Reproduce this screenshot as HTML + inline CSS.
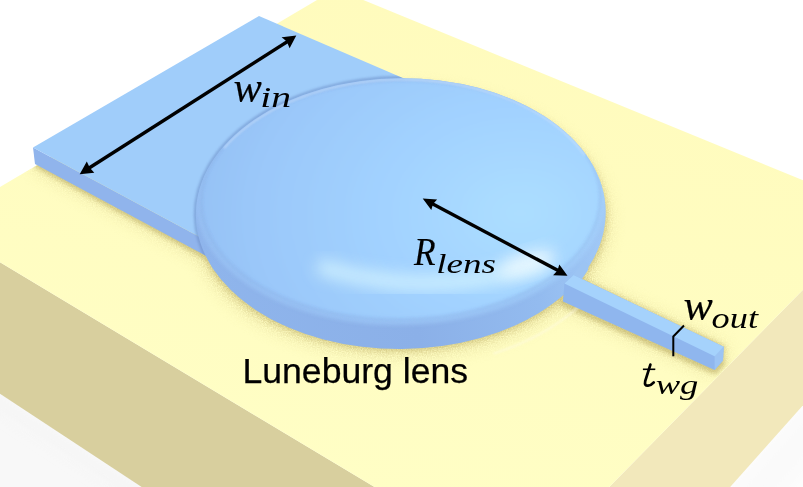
<!DOCTYPE html>
<html><head><meta charset="utf-8">
<style>
html,body{margin:0;padding:0;background:#fff;}
body{width:803px;height:487px;overflow:hidden;position:relative;}
svg{position:absolute;left:0;top:0;}
.m{font-family:"Liberation Serif",serif;font-style:italic;fill:#000;}
.s{font-family:"Liberation Sans",sans-serif;fill:#000;}
</style></head>
<body>
<svg width="803" height="487" viewBox="0 0 803 487">
<defs>
  <filter id="b1" x="-50%" y="-50%" width="200%" height="200%"><feGaussianBlur stdDeviation="1"/></filter>
  <filter id="b2" x="-50%" y="-50%" width="200%" height="200%"><feGaussianBlur stdDeviation="2"/></filter>
  <filter id="b3" x="-50%" y="-50%" width="200%" height="200%"><feGaussianBlur stdDeviation="3"/></filter>
  <filter id="b5" x="-50%" y="-50%" width="200%" height="200%"><feGaussianBlur stdDeviation="5"/></filter>
  <filter id="b8" x="-50%" y="-50%" width="200%" height="200%"><feGaussianBlur stdDeviation="8"/></filter>
  <filter id="b10" x="-50%" y="-50%" width="200%" height="200%"><feGaussianBlur stdDeviation="10"/></filter>
  <filter id="grain" x="-10%" y="-10%" width="120%" height="120%">
    <feGaussianBlur in="SourceGraphic" stdDeviation="9" result="bl"/>
    <feTurbulence type="fractalNoise" baseFrequency="0.8" numOctaves="2" seed="4" result="n"/>
    <feColorMatrix in="n" type="matrix" values="0 0 0 0 0  0 0 0 0 0  0 0 0 0 0  2.2 0 0 0 -0.5" result="na"/>
    <feComposite in="bl" in2="na" operator="in"/>
  </filter>
  <filter id="b14" x="-50%" y="-50%" width="200%" height="200%"><feGaussianBlur stdDeviation="14"/></filter>
  <radialGradient id="lensTop" gradientUnits="userSpaceOnUse" cx="520" cy="215" r="340" gradientTransform="translate(520,215) scale(1,0.75) translate(-520,-215)">
    <stop offset="0" stop-color="#acdeff"/>
    <stop offset="0.4" stop-color="#a2d2ff"/>
    <stop offset="0.8" stop-color="#9ac7f9"/>
    <stop offset="1" stop-color="#94c0f4"/>
  </radialGradient>
  <linearGradient id="wall" gradientUnits="userSpaceOnUse" x1="200" y1="300" x2="610" y2="230">
    <stop offset="0" stop-color="#8fb5ec"/>
    <stop offset="0.5" stop-color="#8bb0e8"/>
    <stop offset="0.8" stop-color="#93bbef"/>
    <stop offset="1" stop-color="#a2caf7"/>
  </linearGradient>
  <linearGradient id="whiteShadowL" gradientUnits="userSpaceOnUse" x1="140" y1="480" x2="80" y2="580">
    <stop offset="0" stop-color="#eeeeee"/>
    <stop offset="1" stop-color="#ffffff"/>
  </linearGradient>
  <linearGradient id="topY" gradientUnits="userSpaceOnUse" x1="400" y1="0" x2="300" y2="480">
    <stop offset="0" stop-color="#fffbbd"/>
    <stop offset="1" stop-color="#fffec5"/>
  </linearGradient>
  <clipPath id="topClip"><path d="M336,-11.2 L879.7,211.7 L522.2,575.6 L-63.3,224.3 Z"/></clipPath>
  <clipPath id="slabClip"><path d="M33,147.5 L259,16 L440,94 L230,253.3 L230,268.7 L35,164 Z"/></clipPath>
  <clipPath id="silclip"><ellipse cx="400.8" cy="213.6" transform="rotate(-0.52 400.8 213.6)" rx="204.9" ry="135.4"/></clipPath>
  <clipPath id="e1clip"><ellipse cx="400.8" cy="201.1" transform="rotate(-0.86 400.8 201.1)" rx="201.5" ry="121.1"/></clipPath>
</defs>

<rect x="0" y="0" width="803" height="487" fill="#ffffff"/>
<!-- ground shadows -->
<path d="M-63.3,352 L513,731 L513,800 L-63.3,500 Z" fill="#f8f8f8" filter="url(#b14)"/>
<path d="M-63.3,352 L513,731 L513,745 L-63.3,366 Z" fill="#ebebeb" filter="url(#b8)" opacity="0.5"/>
<path d="M513,731 L879.7,319 L900,360 L560,760 Z" fill="#f9f9f9" filter="url(#b14)"/>

<!-- substrate -->
<path d="M-63.3,224.3 L522.2,575.6 L512.7,731.2 L-63.3,352.1 Z" fill="#d8cf9e"/>
<path d="M522.2,575.6 L879.7,211.7 L879.7,319.1 L512.7,731.2 Z" fill="#f2e8bb"/>
<path d="M336,-11.2 L879.7,211.7 L522.2,575.6 L-63.3,224.3 Z" fill="url(#topY)"/>

<!-- ambient occlusion on top face -->
<g clip-path="url(#topClip)">
 <g id="aofoot" opacity="0.55" filter="url(#grain)" fill="#b5a55a">
  <path d="M33,150 L230,256 L230,272 L35,166 Z"/>
  <ellipse cx="400.8" cy="222" transform="rotate(-0.52 400.8 222)" rx="206" ry="132"/>
  <path d="M563,285 L573,277 L724,348 L724,362 L715,373 L561,304 Z"/>
 </g>
 <g opacity="0.6" filter="url(#b3)" fill="#c2b268">
  <path d="M33,150 L230,256 L230,270 L35,165 Z"/>
  <ellipse cx="400.8" cy="217" transform="rotate(-0.52 400.8 217)" rx="205.5" ry="133.5"/>
  <path d="M563,287 L573,277 L724,348 L724,362 L715,372 L561,303 Z"/>
 </g>
</g>

<g clip-path="url(#topClip)" fill="none" stroke="#a89850">
  <path d="M561,303 L715,372 L724,362" stroke-width="3" opacity="0.45" filter="url(#b2)"/>
  <path d="M574,276 L725,348" stroke-width="2" opacity="0.35" filter="url(#b2)"/>
  <path d="M36,165 L230,270" stroke-width="3" opacity="0.4" filter="url(#b2)"/>
</g>

<path d="M578.1,307.1 A223.9,154.4 -0.52 0 1 493.1,353.8" stroke="#fffbe6" stroke-width="1.6" fill="none" opacity="0.7" filter="url(#b1)"/>

<!-- input slab -->
<path d="M33,147.5 L230,253.3 L230,268.7 L35,164 Z" fill="#90b4ec"/>
<path d="M33,147.5 L259,16 L440,94 L230,253.3 Z" fill="#a0cdfa"/>
<!-- AO on slab near lens -->
<g clip-path="url(#slabClip)"><ellipse cx="400.8" cy="213.6" transform="rotate(-0.52 400.8 213.6)" rx="205.5" ry="136" fill="none" stroke="#6a8cc6" stroke-width="3" opacity="0.6" filter="url(#b1)"/></g>

<!-- lens -->
<ellipse cx="400.8" cy="213.6" transform="rotate(-0.52 400.8 213.6)" rx="204.9" ry="135.4" fill="url(#wall)"/>
<g clip-path="url(#silclip)">
<ellipse cx="400.8" cy="199.8" transform="rotate(-0.86 400.8 199.8)" rx="201" ry="121.5" fill="url(#lensTop)" filter="url(#b3)"/>
<ellipse cx="400.8" cy="199.8" transform="rotate(-0.86 400.8 199.8)" rx="203" ry="123" fill="none" stroke="#a6d0fb" stroke-width="4" opacity="0.4" filter="url(#b2)"/>
<ellipse cx="400.8" cy="199.8" transform="rotate(-0.86 400.8 199.8)" rx="199.5" ry="120" fill="none" stroke="#86aae2" stroke-width="2" opacity="0.25" filter="url(#b1)"/>
<g clip-path="url(#e1clip)">
  <path d="M318,266 Q430,302 548,262" stroke="#d8f6ff" stroke-width="14" fill="none" opacity="0.85" filter="url(#b8)"/>
  <ellipse cx="527" cy="263" transform="rotate(-18 527 263)" rx="30" ry="10" fill="#f4fcff" opacity="0.8" filter="url(#b8)"/>
</g>
<path d="M223.9,148.2 A203.6,134.1 -0.52 0 1 584.8,155.3" stroke="#d0e6ff" stroke-width="1.6" fill="none" opacity="0.75" filter="url(#b1)"/>
</g>
<path d="M566,284 L583,262 Q590,262 588,270 L580,282 Z" fill="#9cc4f3"/>
<!-- output waveguide -->
<path d="M564.4,283.4 L573.6,275 L723.7,346.8 L723,360.5 L714.6,370 L562.9,301.5 Z" fill="#8fb6ee"/>
<path d="M714.6,355.3 L723.7,346.8 L723,360.5 L714.6,370 Z" fill="#9cc4f4"/>
<path d="M564.4,283.4 L573.6,275 L723.7,346.8 L714.6,356.3 Z" fill="#a5d2fc"/>

<!-- arrows -->
<g stroke="#000" stroke-width="3.4" fill="none">
  <line x1="86" y1="170" x2="290" y2="40"/>
  <line x1="430" y1="202.5" x2="560" y2="271.5"/>
</g>
<g fill="#000">
  <path d="M296.3,35.6 L281.6,37.2 L286.8,41.6 L289.6,48.2 Z"/>
  <path d="M79.7,174.2 L86.8,161.6 L89.8,167.8 L94.3,172.8 Z"/>
  <path d="M422.7,198.5 L437.1,199.4 L433.0,204.0 L431.3,210 Z"/>
  <path d="M567.5,275.7 L559.3,264.4 L557.5,270.5 L553.1,275.2 Z"/>
</g>
<path d="M684,325.5 L673.3,336.5 L673.3,356.3" stroke="#000" stroke-width="2" fill="none"/>

<!-- labels -->
<text class="m" x="233.4" y="101.5" font-size="44.7" textLength="28.3" lengthAdjust="spacingAndGlyphs" stroke="#000" stroke-width="0.2">w</text>
<text class="m" x="260.3" y="106.7" font-size="28.7" textLength="30.8" lengthAdjust="spacingAndGlyphs">in</text>
<text class="m" x="413.9" y="265.0" font-size="39.9" textLength="21.6" lengthAdjust="spacingAndGlyphs" stroke="#000" stroke-width="0.15">R</text>
<text class="m" x="436.2" y="273.1" font-size="28.1" textLength="59.7" lengthAdjust="spacingAndGlyphs">lens</text>
<text class="m" x="683.4" y="319.7" font-size="45.1" textLength="29.3" lengthAdjust="spacingAndGlyphs" stroke="#000" stroke-width="0.2">w</text>
<text class="m" x="711.6" y="327.6" font-size="29.8" textLength="46.4" lengthAdjust="spacingAndGlyphs">out</text>
<path d="M650.4,364.6 L645.2,381.2 Q644.2,385.9 648,385.7 Q651.2,385.4 653.8,382.4" stroke="#000" stroke-width="2.7" fill="none" stroke-linecap="round"/>
<path d="M642.9,369.3 L655.3,369.3" stroke="#000" stroke-width="1.6" fill="none"/>
<text class="m" x="655.7" y="394.4" font-size="28.0" textLength="42.7" lengthAdjust="spacingAndGlyphs">wg</text>
<text class="s" x="242.5" y="382.7" font-size="34.2" textLength="225.5" lengthAdjust="spacingAndGlyphs" stroke="#000" stroke-width="0.25">Luneburg lens</text>
</svg>
</body></html>
